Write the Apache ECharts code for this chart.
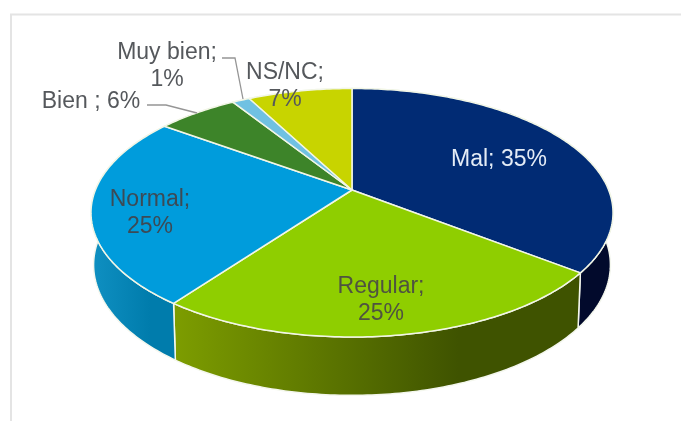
<!DOCTYPE html>
<html>
<head>
<meta charset="utf-8">
<style>
  html, body { margin: 0; padding: 0; background: #fff; }
  #chart { width: 681px; height: 421px; }
</style>
<script src="https://cdn.jsdelivr.net/npm/echarts@6/dist/echarts.min.js"></script>
</head>
<body>
<div id="chart"></div>
<script>
// clockwise from 12 o'clock, shares
const categories = ['Mal', 'Regular', 'Normal', 'Bien ', 'Muy bien', 'NS/NC']
const shares = [35.5, 24.6, 24.9, 6, 1.3, 7.7]
const printedLabels = ['Mal; 35%', 'Regular;\n25%', 'Normal;\n25%', 'Bien ; 6%', 'Muy bien;\n1%', 'NS/NC;\n7%']

const topColors = ['#012b74', '#8fce00', '#009cdc', '#3d8429', '#70c1e2', '#c8d400']
const sideColors = [
  ['#000d38', '#020a2c'],
  ['#7d9d00', '#3f5300'],
  ['#0f90c2', '#007cac'],
  ['#2a5c1c', '#2a5c1c'],
  ['#4f8aa0', '#4f8aa0'],
  ['#8c9400', '#8c9400']
]
const labelColors = ['#e4ecf6', '#4f5340', '#3c4a55', '#55585c', '#55585c', '#55585c']

// label centres and leader lines, layout only
const labelBoxes = [[499, 160], [381, 300], [150, 213], [91, 102], [167, 66], [285, 86]]
const leaders = {
  3: [[147, 105], [166, 105], [197, 113]],
  4: [[222, 58], [235, 58], [243, 99]]
}

// perspective of the pie plane
const cx = 352, cy = 190, radiusX = 256.6, radiusY = 120.1, tilt = 0.183
const project = (angle) => {
  const u = Math.sin(angle)
  const v = -Math.cos(angle)
  const w = 1 - tilt * v
  return [cx + radiusX * u / w, cy + radiusY * v / w]
}
const dropDown = (p) => [cx + (p[0] - cx) * 0.99, cy + (p[1] - cy) * 1.05 + 51]

const total = shares.reduce((a, b) => a + b, 0)
const toAngle = (share) => echarts.number.linearMap(share, [0, total], [0, Math.PI * 2])

let running = 0
const sliceData = shares.map((share, i) => {
  const row = [running, running + share, i]
  running += share
  return row
})

const arcPoints = (from, to) => {
  const a0 = toAngle(from)
  const a1 = toAngle(to)
  const steps = Math.max(2, Math.ceil((a1 - a0) / 0.015))
  const pts = []
  for (let s = 0; s <= steps; s++) pts.push(project(a0 + (a1 - a0) * s / steps))
  return pts
}

const renderSide = (params, api) => {
  const i = api.value(2)
  const rim = arcPoints(api.value(0), api.value(1))
  const points = rim.concat(rim.map(dropDown).reverse())
  const xs = points.map(p => p[0])
  return {
    type: 'polygon',
    shape: { points },
    style: {
      fill: new echarts.graphic.LinearGradient(Math.min(...xs), 0, Math.max(...xs), 0, [
        { offset: 0, color: sideColors[i][0] },
        { offset: 0.7, color: sideColors[i][1] },
        { offset: 1, color: sideColors[i][1] }
      ], true),
      stroke: '#f4f7ee',
      lineWidth: 1.5
    }
  }
}

const renderTop = (params, api) => {
  const rim = arcPoints(api.value(0), api.value(1))
  return {
    type: 'polygon',
    shape: { points: [[cx, cy]].concat(rim) },
    style: {
      fill: topColors[api.value(2)],
      stroke: '#f2f6e6',
      lineWidth: 1.5,
      lineJoin: 'round'
    }
  }
}

const renderLabel = (params, api) => {
  const i = api.value(2)
  const children = [{
    type: 'text',
    style: {
      x: labelBoxes[i][0],
      y: labelBoxes[i][1],
      text: printedLabels[i],
      fill: labelColors[i],
      font: '23px "Liberation Sans", Arial, sans-serif',
      lineHeight: 27.5,
      align: 'center',
      verticalAlign: 'middle'
    }
  }]
  if (leaders[i]) {
    children.push({
      type: 'polyline',
      shape: { points: leaders[i] },
      style: { fill: 'none', stroke: '#959595', lineWidth: 1.3 }
    })
  }
  return { type: 'group', children }
}

const chart = echarts.init(document.getElementById('chart'), null, { renderer: 'canvas' })
chart.setOption({
  animation: false,
  backgroundColor: '#fff',
  // frame of the original slide
  graphic: [{
    type: 'polyline',
    shape: { points: [[11, 421], [11, 14.5], [681, 14.5]] },
    style: { fill: 'none', stroke: '#e4e4e4', lineWidth: 2 }
  }],
  series: [
    { type: 'custom', name: 'side', coordinateSystem: 'none', z: 2, silent: true, data: sliceData, renderItem: renderSide },
    { type: 'custom', name: 'top', coordinateSystem: 'none', z: 3, silent: true, data: sliceData, renderItem: renderTop },
    { type: 'custom', name: 'labels', coordinateSystem: 'none', z: 4, silent: true, data: sliceData, renderItem: renderLabel }
  ]
})
</script>
</body>
</html>
